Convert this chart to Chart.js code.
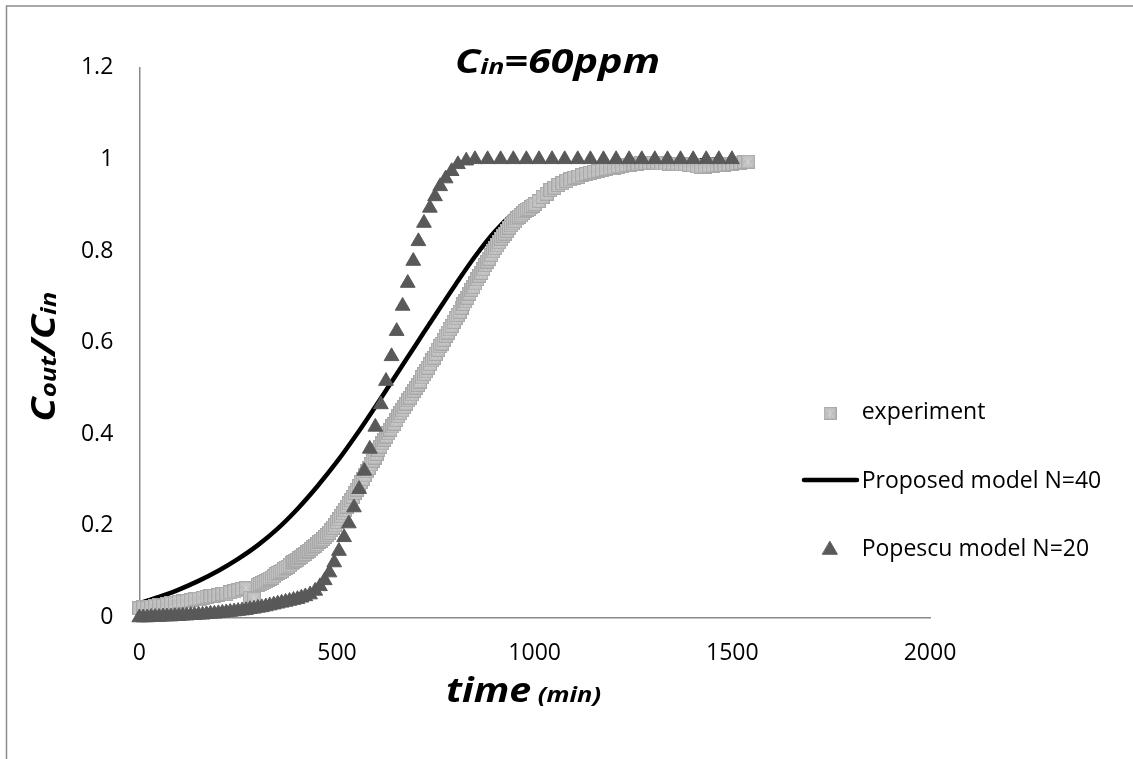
<!DOCTYPE html>
<html>
<head>
<meta charset="utf-8">
<script src="https://cdn.jsdelivr.net/npm/chart.js@4.4.1/dist/chart.umd.min.js"></script>
<style>
  html, body { margin: 0; padding: 0; background: #fff; overflow: hidden; }
  #wrap { position: relative; width: 1133px; height: 759px; }
  canvas { display: block; }
</style>
</head>
<body>
<div id="wrap"><canvas id="chart" width="1133" height="759"></canvas></div>
<script>
// Axis ticks
const xTickValues = [0, 500, 1000, 1500, 2000];
const xTickLabels = ['0', '500', '1000', '1500', '2000'];
const yTickValues = [0, 0.2, 0.4, 0.6, 0.8, 1.0, 1.2];
const yTickLabels = ['0', '0.2', '0.4', '0.6', '0.8', '1', '1.2'];

// Measured breakthrough curve (time in min, Cout/Cin)
const expTimes = [
  0, 10, 20, 30, 40, 50, 60, 70, 80, 90,
  100, 110, 120, 130, 140, 150, 160, 170, 180, 190,
  200, 210, 220, 230, 240, 250, 260, 270, 280, 290,
  300, 305, 310, 315, 320, 325, 330, 335, 340, 345,
  350, 355, 360, 365, 370, 375, 380, 385, 390, 395,
  400, 405, 410, 415, 420, 425, 430, 435,
  440, 445, 450, 455, 460, 465, 470, 475, 480, 485,
  490, 495, 500, 505, 510, 515, 520, 525, 530, 535,
  540, 545, 550, 555, 560, 565, 570, 575, 580, 585,
  590, 595, 600, 605, 610, 615, 620, 625, 630, 635,
  640, 645, 650, 655, 660, 665, 670, 675, 680, 685,
  690, 695, 700, 705, 710, 715, 720, 725, 730, 735,
  740, 745, 750, 755, 760, 765, 770, 775, 780, 785,
  790, 795, 800, 805, 810, 815, 820, 825, 830, 835,
  840, 845, 850, 855, 860, 865, 870, 875, 880, 885,
  890, 895, 900, 905, 910, 915, 920, 925, 930, 935,
  940, 945, 950, 955, 960, 965, 970, 975, 980, 985,
  990, 995, 1000,
  1010, 1020, 1030, 1040, 1050, 1060, 1070, 1080, 1090,
  1100, 1110, 1120, 1130, 1140, 1150, 1160, 1170, 1180, 1190,
  1200, 1210, 1220, 1230, 1240, 1250, 1260, 1270, 1280, 1290,
  1300, 1310, 1320, 1330, 1340, 1350, 1360, 1370, 1380, 1390,
  1400, 1410, 1420, 1430, 1440, 1450, 1460, 1470, 1480, 1490,
  1500, 1510, 1520, 1530, 1540
];
const expValues = [
  0.020, 0.022, 0.021, 0.024, 0.025, 0.027, 0.026, 0.029, 0.031, 0.032,
  0.034, 0.035, 0.036, 0.038, 0.040, 0.041, 0.043, 0.045, 0.046, 0.047,
  0.049, 0.051, 0.052, 0.055, 0.057, 0.059, 0.062, 0.064, 0.043, 0.041,
  0.071, 0.073, 0.075, 0.077, 0.079, 0.082, 0.085, 0.087, 0.090, 0.094,
  0.097, 0.099, 0.102, 0.105, 0.108, 0.111, 0.114, 0.118, 0.121, 0.123,
  0.126, 0.130, 0.133, 0.136, 0.139, 0.143, 0.146, 0.150,
  0.153, 0.157, 0.160, 0.165, 0.168, 0.171, 0.176, 0.180, 0.185, 0.190,
  0.196, 0.201, 0.208, 0.214, 0.221, 0.227, 0.234, 0.242, 0.249, 0.256,
  0.263, 0.272, 0.279, 0.287, 0.295, 0.302, 0.310, 0.319, 0.326, 0.334,
  0.342, 0.349, 0.357, 0.366, 0.373, 0.380, 0.388, 0.395, 0.402, 0.410,
  0.417, 0.423, 0.431, 0.439, 0.446, 0.452, 0.459, 0.467, 0.474, 0.480,
  0.487, 0.495, 0.502, 0.508, 0.515, 0.524, 0.531, 0.537, 0.545, 0.553,
  0.561, 0.567, 0.575, 0.584, 0.592, 0.598, 0.606, 0.615, 0.622, 0.629,
  0.636, 0.645, 0.653, 0.660, 0.667, 0.676, 0.684, 0.690, 0.698, 0.707,
  0.715, 0.721, 0.729, 0.738, 0.746, 0.752, 0.760, 0.769, 0.777, 0.783,
  0.791, 0.799, 0.806, 0.812, 0.819, 0.827, 0.833, 0.838, 0.844, 0.851,
  0.856, 0.860, 0.865, 0.871, 0.875, 0.878, 0.882, 0.887, 0.890, 0.892,
  0.895, 0.899, 0.902,
  0.909, 0.918, 0.925, 0.933, 0.938, 0.944, 0.948, 0.953, 0.956,
  0.960, 0.962, 0.966, 0.968, 0.971, 0.973, 0.975, 0.977, 0.979, 0.980,
  0.982, 0.984, 0.985, 0.987, 0.988, 0.989, 0.990, 0.991, 0.992, 0.992,
  0.993, 0.992, 0.991, 0.991, 0.990, 0.990, 0.990, 0.989, 0.989, 0.988,
  0.987, 0.985, 0.984, 0.984, 0.985, 0.986, 0.987, 0.987, 0.988, 0.989,
  0.990, 0.991, 0.993, 0.994, 0.995
];

// Proposed model, N = 40
const modelTimes = [
  0, 50, 100, 150, 200, 250, 300, 350, 400, 450,
  500, 550, 600, 650, 700, 750, 800, 850, 900, 950,
  1000, 1050, 1100, 1150, 1200, 1250, 1300, 1350, 1400, 1450,
  1500, 1540
];
const modelValues = [
  0.031, 0.045, 0.061, 0.080, 0.102, 0.128, 0.158, 0.194, 0.237, 0.286,
  0.340, 0.400, 0.464, 0.530, 0.596, 0.662, 0.727, 0.789, 0.843, 0.885,
  0.916, 0.939, 0.956, 0.969, 0.978, 0.985, 0.990, 0.994, 0.997, 0.999,
  1.000, 1.000
];

// Popescu model, N = 20
const popescuTimes = [
  0, 10, 20, 30, 40, 50, 60, 70, 80, 90,
  100, 110, 120, 130, 140, 150, 160, 170, 180, 190,
  200, 210, 220, 230, 240, 250, 260, 270, 280, 290,
  300, 310, 320, 330, 340, 350, 360, 370, 380, 390,
  400, 410, 420, 432, 445, 457, 469, 481, 493, 505,
  518, 530, 543, 556, 569, 583, 597, 611, 624, 638,
  651, 666, 679, 693, 706, 720, 735, 748, 761, 775,
  790, 806, 827, 849, 881, 914, 946, 979, 1011, 1044,
  1076, 1109, 1141, 1174, 1206, 1239, 1271, 1304, 1336, 1369,
  1401, 1434, 1466, 1499
];
const popescuValues = [
  0.000, 0.000, 0.000, 0.001, 0.001, 0.001, 0.002, 0.002, 0.002, 0.003,
  0.003, 0.004, 0.004, 0.005, 0.005, 0.006, 0.006, 0.007, 0.008, 0.008,
  0.009, 0.010, 0.011, 0.012, 0.013, 0.014, 0.015, 0.016, 0.018, 0.019,
  0.021, 0.022, 0.024, 0.026, 0.028, 0.030, 0.032, 0.034, 0.036, 0.038,
  0.040, 0.043, 0.046, 0.050, 0.058, 0.068, 0.081, 0.098, 0.120, 0.145,
  0.175, 0.205, 0.240, 0.280, 0.320, 0.368, 0.416, 0.465, 0.516, 0.570,
  0.625, 0.680, 0.730, 0.778, 0.821, 0.861, 0.894, 0.919, 0.941, 0.958,
  0.974, 0.989, 0.997, 1.000, 1.000, 1.000, 1.000, 1.000, 1.000, 1.000,
  1.000, 1.000, 1.000, 1.000, 1.000, 1.000, 1.000, 1.000, 1.000, 1.000,
  1.000, 1.000, 1.000, 1.000
];

const seriesNames = ['experiment', 'Proposed model N=40', 'Popescu model N=20'];

const FONT = "'Open Sans', 'Noto Sans', sans-serif";
const AXIS_GREY = '#8a8a8a';
const EXP_FILL = '#bfbfbf';
const TRI_FILL = '#595959';

function pairs(xs, ys) {
  return xs.map((x, i) => ({ x: x, y: ys[i] }));
}

// Square marker with an asterisk, used for the measured points
function makeExpMarker(size) {
  const c = document.createElement('canvas');
  c.width = size; c.height = size;
  const g = c.getContext('2d');
  const m = size / 2;
  g.fillStyle = EXP_FILL;
  g.fillRect(0, 0, size, size);
  g.strokeStyle = '#a8a8a8';
  g.lineWidth = 1;
  g.strokeRect(0.5, 0.5, size - 1, size - 1);
  g.strokeStyle = '#d4d4d4';
  g.beginPath();
  g.moveTo(3, 3); g.lineTo(size - 3, size - 3);
  g.moveTo(size - 3, 3); g.lineTo(3, size - 3);
  g.moveTo(m, 2); g.lineTo(m, size - 2);
  g.stroke();
  return c;
}

// Text made of runs with different sizes (for subscripts),
// centred on cx and stretched along its length to span `span` pixels
function drawRuns(ctx, runs, cx, baseY, span) {
  let total = 0;
  runs.forEach(r => {
    ctx.font = `italic bold ${r.size}px ${FONT}`;
    r.w = ctx.measureText(r.text).width;
    total += r.w;
  });
  const sx = span ? span / total : 1;
  ctx.save();
  ctx.translate(cx, baseY);
  ctx.scale(sx, 1);
  ctx.textBaseline = 'alphabetic';
  ctx.textAlign = 'left';
  let x = -total / 2;
  runs.forEach(r => {
    ctx.font = `italic bold ${r.size}px ${FONT}`;
    ctx.fillText(r.text, x, r.dy || 0);
    x += r.w;
  });
  ctx.restore();
}

const titleRuns = [
  { text: 'C', size: 34 }, { text: 'in', size: 22, dy: 1 }, { text: '=60ppm', size: 34 }
];
const xTitleRuns = [
  { text: 'time', size: 34 }, { text: ' (min)', size: 22 }
];
const yTitleRuns = [
  { text: 'C', size: 34 }, { text: 'out', size: 22, dy: 1 }, { text: '/', size: 34 },
  { text: 'C', size: 34 }, { text: 'in', size: 22, dy: 1 }
];

function buildChart() {
  const expMarker = makeExpMarker(14);
  const legendMarker = makeExpMarker(13);

  const decor = {
    id: 'decor',
    beforeDraw(chart) {
      const ctx = chart.ctx;
      ctx.save();
      ctx.fillStyle = '#fff';
      ctx.fillRect(0, 0, chart.width, chart.height);
      ctx.strokeStyle = '#8c8c8c';
      ctx.lineWidth = 1.5;
      ctx.beginPath();
      ctx.moveTo(6.5, 759);
      ctx.lineTo(6.5, 6);
      ctx.lineTo(1133, 6);
      ctx.stroke();
      ctx.restore();
    },
    afterDraw(chart) {
      const ctx = chart.ctx;
      ctx.save();
      ctx.fillStyle = '#000';
      drawRuns(ctx, titleRuns, 557.5, 72.7, 205);
      drawRuns(ctx, xTitleRuns, 523.5, 701.7, 155);
      ctx.save();
      ctx.translate(55, 356.7);
      ctx.rotate(-Math.PI / 2);
      drawRuns(ctx, yTitleRuns, 0, 0, 130);
      ctx.restore();

      // legend
      const lx = 861.7;
      ctx.font = `23px ${FONT}`;
      ctx.textAlign = 'left';
      ctx.textBaseline = 'alphabetic';
      ctx.fillStyle = '#000';
      ctx.fillText(seriesNames[0], lx, 419);
      ctx.fillText(seriesNames[1], lx, 488.3);
      ctx.fillText(seriesNames[2], lx, 555.7);

      ctx.drawImage(legendMarker, 830 - 6.5, 413.3 - 6.5);

      ctx.strokeStyle = '#000';
      ctx.lineWidth = 4.5;
      ctx.lineCap = 'round';
      ctx.beginPath();
      ctx.moveTo(804, 480);
      ctx.lineTo(857, 480);
      ctx.stroke();

      ctx.fillStyle = TRI_FILL;
      ctx.strokeStyle = TRI_FILL;
      ctx.lineWidth = 1;
      Chart.helpers.drawPoint(ctx, { pointStyle: 'triangle', radius: 8.5, borderWidth: 1, rotation: 0 }, 830, 550);
      ctx.restore();
    }
  };

  Chart.defaults.font.family = FONT;
  Chart.defaults.color = '#000';

  new Chart(document.getElementById('chart'), {
    type: 'scatter',
    data: {
      datasets: [
        {
          label: seriesNames[0],
          data: pairs(expTimes, expValues),
          showLine: false,
          pointStyle: expMarker,
          pointRadius: 7,
          order: 1,
          clip: false
        },
        {
          label: seriesNames[1],
          data: pairs(modelTimes, modelValues),
          showLine: true,
          borderColor: '#000',
          borderWidth: 4.5,
          pointRadius: 0,
          cubicInterpolationMode: 'monotone',
          fill: false,
          order: 2,
          clip: false
        },
        {
          label: seriesNames[2],
          data: pairs(popescuTimes, popescuValues),
          showLine: false,
          pointStyle: 'triangle',
          pointRadius: 8.5,
          backgroundColor: TRI_FILL,
          borderColor: TRI_FILL,
          borderWidth: 1,
          order: 0,
          clip: false
        }
      ]
    },
    options: {
      responsive: false,
      animation: false,
      devicePixelRatio: 1,
      events: [],
      layout: { padding: { left: 0, top: 67.7, right: 203, bottom: 0 } },
      plugins: {
        legend: { display: false },
        tooltip: { enabled: false },
        title: { display: false }
      },
      scales: {
        x: {
          type: 'linear',
          min: 0, max: 2000,
          grid: { display: false, drawTicks: false },
          border: { display: true, color: AXIS_GREY, width: 1.5 },
          ticks: {
            padding: 22,
            color: '#000',
            font: { size: 23, family: FONT },
            callback: (v, i) => xTickLabels[i]
          },
          afterBuildTicks(s) { s.ticks = xTickValues.map(v => ({ value: v })); },
          afterFit(s) { s.height = 141.5; }
        },
        y: {
          type: 'linear',
          min: 0, max: 1.2,
          grid: { display: false, drawTicks: false },
          border: { display: true, color: AXIS_GREY, width: 1.5 },
          ticks: {
            padding: 26,
            color: '#000',
            font: { size: 23, family: FONT },
            callback: (v, i) => yTickLabels[i]
          },
          afterBuildTicks(s) { s.ticks = yTickValues.map(v => ({ value: v })); },
          afterFit(s) { s.width = 139.3; }
        }
      }
    },
    plugins: [decor]
  });
}

const fontLoads = [
  `23px ${FONT}`, `italic bold 34px ${FONT}`, `italic bold 22px ${FONT}`
].map(f => document.fonts.load(f).catch(() => null));
Promise.all(fontLoads).then(buildChart, buildChart);
</script>
</body>
</html>
